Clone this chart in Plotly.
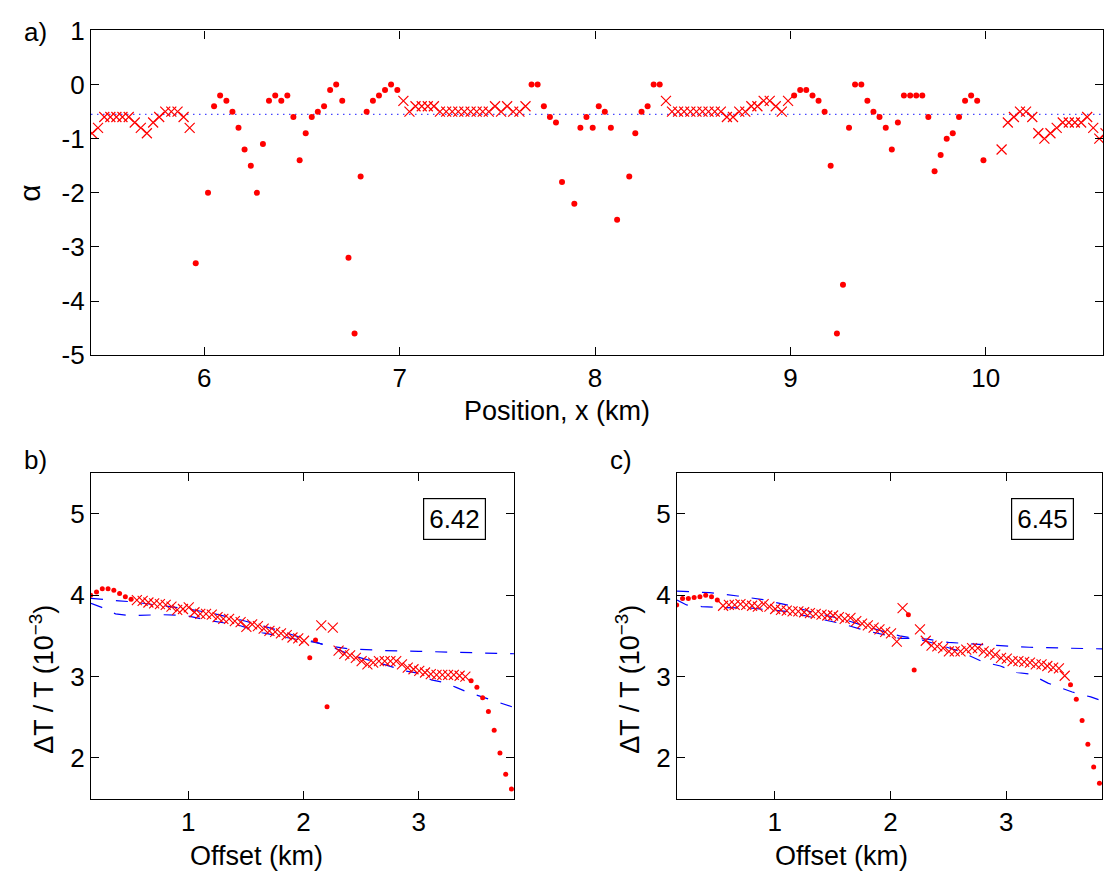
import plotly.graph_objects as go

# ---------------- panel a data ----------------
POSITION = [5.425, 5.456, 5.488, 5.519, 5.550, 5.581, 5.613, 5.644, 5.675, 5.706,
            5.738, 5.769, 5.800, 5.831, 5.863, 5.894, 5.925, 5.956, 5.988, 6.019,
            6.050, 6.081, 6.113, 6.144, 6.175, 6.206, 6.238, 6.269, 6.300, 6.331,
            6.363, 6.394, 6.425, 6.456, 6.488, 6.519, 6.550, 6.581, 6.613, 6.644,
            6.675, 6.706, 6.738, 6.769, 6.800, 6.831, 6.863, 6.894, 6.925, 6.956,
            6.988, 7.019, 7.050, 7.081, 7.113, 7.144, 7.175, 7.206, 7.238, 7.269,
            7.300, 7.331, 7.363, 7.394, 7.425, 7.456, 7.488, 7.519, 7.550, 7.581,
            7.613, 7.644, 7.675, 7.706, 7.738, 7.769, 7.800, 7.831, 7.863, 7.894,
            7.925, 7.956, 7.988, 8.019, 8.050, 8.081, 8.113, 8.144, 8.175, 8.206,
            8.238, 8.269, 8.300, 8.331, 8.363, 8.394, 8.425, 8.456, 8.488, 8.519,
            8.550, 8.581, 8.613, 8.644, 8.675, 8.706, 8.738, 8.769, 8.800, 8.831,
            8.863, 8.894, 8.925, 8.956, 8.988, 9.019, 9.050, 9.081, 9.113, 9.144,
            9.175, 9.206, 9.238, 9.269, 9.300, 9.331, 9.363, 9.394, 9.425, 9.456,
            9.488, 9.519, 9.550, 9.581, 9.613, 9.644, 9.675, 9.706, 9.738, 9.769,
            9.800, 9.831, 9.863, 9.894, 9.925, 9.956, 9.988, 10.019, 10.050, 10.081,
            10.113, 10.144, 10.175, 10.206, 10.238, 10.269, 10.300, 10.331, 10.363, 10.394,
            10.425, 10.456, 10.488, 10.519, 10.550, 10.581, 10.613]
ALPHA = [-0.9, -0.8, -0.6, -0.6, -0.6, -0.6, -0.6, -0.7, -0.8, -0.9,
         -0.7, -0.6, -0.5, -0.5, -0.5, -0.6, -0.8, -3.3, None, -2.0,
         -0.4, -0.2, -0.3, -0.5, -0.8, -1.2, -1.5, -2.0, -1.1, -0.3,
         -0.2, -0.3, -0.2, -0.6, -1.4, -0.9, -0.6, -0.5, -0.4, -0.1,
         0.0, -0.3, -3.2, -4.6, -1.7, -0.5, -0.3, -0.2, -0.1, 0.0,
         -0.1, -0.3, -0.5, -0.4, -0.4, -0.4, -0.4, -0.5, -0.5, -0.5,
         -0.5, -0.5, -0.5, -0.5, -0.5, -0.5, -0.4, -0.5, -0.4, -0.5,
         -0.5, -0.4, 0.0, 0.0, -0.4, -0.6, -0.7, -1.8, None, -2.2,
         -0.8, -0.6, -0.8, -0.4, -0.5, -0.8, -2.5, None, -1.7, -0.9,
         -0.5, -0.4, 0.0, 0.0, -0.3, -0.5, -0.5, -0.5, -0.5, -0.5,
         -0.5, -0.5, -0.5, -0.5, -0.6, -0.6, -0.5, -0.5, -0.4, -0.4,
         -0.3, -0.3, -0.4, -0.5, -0.3, -0.2, -0.1, -0.1, -0.2, -0.3,
         -0.5, -1.5, -4.6, -3.7, -0.8, 0.0, 0.0, -0.3, -0.5, -0.6,
         -0.8, -1.2, -0.7, -0.2, -0.2, -0.2, -0.2, -0.6, -1.6, -1.3,
         -1.0, -0.9, -0.6, -0.3, -0.2, -0.3, -1.4, None, None, -1.2,
         -0.7, -0.6, -0.5, -0.5, -0.6, -0.9, -1.0, -0.9, -0.8, -0.7,
         -0.7, -0.7, -0.7, -0.6, -0.8, -1.0, -0.9]
KIND_A = "x" * 17 + "o" * 34 + "x" * 21 + "o" * 22 + "x" * 21 + "o" * 32 + "-" * 2 + "x" * 18
ALPHA_MEAN = -0.55
A_XRANGE = [5.42, 10.6]
A_YTICKS = [-5, -4, -3, -2, -1, 0, 1]
A_YTICKTEXT = ["-5", "-4", "-3", "-2", "-1", "0", "1"]
A_XTICKS = [6, 7, 8, 9, 10]

# ---------------- panels b, c data ----------------
OFFSET = [0.155, 0.205, 0.255, 0.305, 0.355, 0.405, 0.455, 0.505, 0.555, 0.605,
          0.655, 0.705, 0.755, 0.805, 0.855, 0.905, 0.955, 1.005, 1.055, 1.105,
          1.155, 1.205, 1.255, 1.305, 1.355, 1.405, 1.455, 1.505, 1.555, 1.605,
          1.655, 1.705, 1.755, 1.805, 1.855, 1.905, 1.955, 2.005, 2.055, 2.105,
          2.155, 2.205, 2.255, 2.305, 2.355, 2.405, 2.455, 2.505, 2.555, 2.605,
          2.655, 2.705, 2.755, 2.805, 2.855, 2.905, 2.955, 3.005, 3.055, 3.105,
          3.155, 3.205, 3.255, 3.305, 3.355, 3.405, 3.455, 3.505, 3.555, 3.605,
          3.655, 3.705, 3.755, 3.805, 3.855]
B_VALUE = [4.00, 4.04, 4.08, 4.08, 4.06, 4.02, 3.98, 3.95, 3.94, 3.93,
           3.91, 3.90, 3.89, 3.88, 3.86, 3.82, 3.83, 3.85, 3.79, 3.77,
           3.77, 3.76, 3.73, 3.71, 3.71, 3.68, 3.67, 3.61, 3.64, 3.62,
           3.59, 3.56, 3.55, 3.53, 3.51, 3.48, 3.47, 3.44, 3.23, 3.45,
           3.63, 2.63, 3.60, 3.32, 3.28, 3.26, 3.23, 3.19, 3.15, 3.17,
           3.19, 3.19, 3.19, 3.19, 3.15, 3.11, 3.09, 3.07, 3.05, 3.03,
           3.02, 3.02, 3.02, 3.02, 3.01, 3.00, 2.95, 2.87, 2.74, 2.57,
           2.34, 2.06, 1.80, 1.62, 1.55]
B_KIND = "o" * 8 + "x" * 30 + "oo" + "x" + "o" + "x" * 24 + "o" * 9
C_VALUE = [3.88, 3.96, 3.96, 3.97, 3.98, 4.00, 3.98, 3.94, 3.87, 3.88,
           3.88, 3.89, 3.88, 3.87, 3.86, 3.89, 3.86, 3.83, 3.82, 3.81,
           3.80, 3.80, 3.79, 3.78, 3.77, 3.76, 3.75, 3.75, 3.73, 3.71,
           3.72, 3.68, 3.65, 3.63, 3.60, 3.58, 3.55, 3.53, 3.43, 3.84,
           3.76, 3.08, 3.58, 3.44, 3.38, 3.37, 3.35, 3.31, 3.31, 3.31,
           3.33, 3.35, 3.35, 3.31, 3.29, 3.27, 3.23, 3.22, 3.19, 3.19,
           3.18, 3.17, 3.15, 3.15, 3.13, 3.11, 3.10, 3.01, 2.90, 2.72,
           2.46, 2.17, 1.89, 1.69, 1.59]
C_KIND = "o" * 8 + "x" * 32 + "oo" + "x" * 26 + "o" * 7

B_FIT1_X = [0.157, 0.27, 0.40, 0.50, 0.80, 1.00, 1.20, 1.50, 1.80, 2.10, 2.20, 2.40, 2.70, 3.00, 3.30, 3.60, 3.83]
B_FIT1_Y = [3.96, 3.95, 3.93, 3.92, 3.87, 3.83, 3.78, 3.68, 3.56, 3.43, 3.38, 3.34, 3.32, 3.31, 3.30, 3.29, 3.28]
B_FIT2_X = [0.157, 0.25, 0.37, 0.49, 0.77, 0.98, 1.18, 1.44, 1.64, 1.85, 2.10, 2.22, 2.42, 2.65, 2.88,
            3.00, 3.11, 3.21, 3.32, 3.42, 3.55, 3.64, 3.83]
B_FIT2_Y = [3.90, 3.85, 3.77, 3.75, 3.76, 3.75, 3.69, 3.63, 3.54, 3.48, 3.42, 3.38, 3.26, 3.17, 3.07,
            3.04, 2.96, 2.93, 2.87, 2.81, 2.75, 2.71, 2.62]
C_FIT1_X = [0.157, 0.44, 0.68, 0.90, 1.12, 1.33, 1.60, 1.85, 2.08, 2.21, 2.32, 2.50, 2.95, 3.20, 3.50, 3.83]
C_FIT1_Y = [4.05, 4.03, 3.99, 3.945, 3.875, 3.79, 3.70, 3.59, 3.50, 3.47, 3.46, 3.42, 3.38, 3.36, 3.35, 3.34]
C_FIT2_X = [0.157, 0.24, 0.37, 0.49, 0.80, 1.10, 1.35, 1.58, 1.77, 1.98, 2.08, 2.21, 2.40, 2.60, 2.72,
            2.80, 2.95, 3.09, 3.21, 3.36, 3.57, 3.73, 3.83]
C_FIT2_Y = [3.94, 3.88, 3.86, 3.85, 3.84, 3.80, 3.72, 3.65, 3.57, 3.50, 3.47, 3.47, 3.40, 3.31, 3.23,
            3.18, 3.13, 3.05, 3.03, 2.92, 2.81, 2.75, 2.70]
BC_XRANGE = [0.157, 3.827]
BC_YRANGE = [1.5, 5.5]
BC_XTICKS = [1, 2, 3]
BC_YTICKS = [2, 3, 4, 5]
B_LABEL = "6.42"
C_LABEL = "6.45"

# ---------------- styling ----------------
W, H = 1104, 891
FONT = "Liberation Sans, Arial, Helvetica, sans-serif"
FS = 26
LFS = 27
RED = "rgb(255,0,0)"
BLUE = "rgb(0,0,255)"


def fx(p):
    return p / W


def fy(p):
    return 1 - p / H


def pick(xs, ys, kinds, k):
    px, py = [], []
    for x, y, kk in zip(xs, ys, kinds):
        if kk == k and y is not None:
            px.append(x)
            py.append(y)
    return px, py


fig = go.Figure()

# panel a
fig.add_trace(go.Scatter(x=A_XRANGE, y=[ALPHA_MEAN, ALPHA_MEAN], mode="lines",
                         line=dict(color="rgb(70,70,255)", width=1.2, dash="1.5px,4.5px"),
                         xaxis="x", yaxis="y", hoverinfo="skip"))
xd, yd = pick(POSITION, ALPHA, KIND_A, "o")
fig.add_trace(go.Scatter(x=xd, y=yd, mode="markers",
                         marker=dict(symbol="circle", size=6, color=RED, line=dict(width=0)),
                         xaxis="x", yaxis="y"))
xx, yx = pick(POSITION, ALPHA, KIND_A, "x")
fig.add_trace(go.Scatter(x=xx, y=yx, mode="markers",
                         marker=dict(symbol="x-thin", size=10, color=RED, line=dict(width=1.2, color=RED)),
                         xaxis="x", yaxis="y"))

# panels b, c
for (vals, kinds, f1x, f1y, f2x, f2y, xa, ya) in [
        (B_VALUE, B_KIND, B_FIT1_X, B_FIT1_Y, B_FIT2_X, B_FIT2_Y, "x2", "y2"),
        (C_VALUE, C_KIND, C_FIT1_X, C_FIT1_Y, C_FIT2_X, C_FIT2_Y, "x3", "y3")]:
    for fxs, fys in [(f1x, f1y), (f2x, f2y)]:
        fig.add_trace(go.Scatter(x=fxs, y=fys, mode="lines",
                                 line=dict(color=BLUE, width=1.2, dash="12px,13px"),
                                 xaxis=xa, yaxis=ya, hoverinfo="skip"))
    xd, yd = pick(OFFSET, vals, kinds, "o")
    fig.add_trace(go.Scatter(x=xd, y=yd, mode="markers",
                             marker=dict(symbol="circle", size=5, color=RED, line=dict(width=0)),
                             xaxis=xa, yaxis=ya))
    xx, yx = pick(OFFSET, vals, kinds, "x")
    fig.add_trace(go.Scatter(x=xx, y=yx, mode="markers",
                             marker=dict(symbol="x-thin", size=10, color=RED, line=dict(width=1.1, color=RED)),
                             xaxis=xa, yaxis=ya))

axis_common = dict(showline=True, linecolor="black", linewidth=1.3, mirror="ticks",
                   ticks="inside", ticklen=8, tickcolor="black", tickwidth=1,
                   showgrid=False, zeroline=False,
                   tickfont=dict(family=FONT, size=FS, color="black"))

fig.update_layout(
    width=W, height=H, margin=dict(l=0, r=0, t=0, b=0),
    paper_bgcolor="white", plot_bgcolor="white", showlegend=False,
    xaxis=dict(domain=[fx(91), fx(1103)], range=A_XRANGE, tickvals=A_XTICKS, anchor="y", **axis_common),
    yaxis=dict(domain=[fy(352), fy(16)], range=[-5, 1], tickvals=A_YTICKS, ticktext=A_YTICKTEXT,
               anchor="x", **axis_common),
    xaxis2=dict(domain=[fx(91), fx(514)], range=BC_XRANGE, tickvals=BC_XTICKS, anchor="y2", **axis_common),
    yaxis2=dict(domain=[fy(811), fy(474)], range=BC_YRANGE, tickvals=BC_YTICKS, anchor="x2", **axis_common),
    xaxis3=dict(domain=[fx(677), fx(1102)], range=BC_XRANGE, tickvals=BC_XTICKS, anchor="y3", **axis_common),
    yaxis3=dict(domain=[fy(811), fy(474)], range=BC_YRANGE, tickvals=BC_YTICKS, anchor="x3", **axis_common),
)

# labels (placed as in the reference figure)
labels = [
    dict(text="a)", x=fx(22), y=fy(18), xanchor="left", yanchor="middle", size=FS, angle=0),
    dict(text="b)", x=fx(22), y=fy(460), xanchor="left", yanchor="middle", size=FS, angle=0),
    dict(text="c)", x=fx(608), y=fy(460), xanchor="left", yanchor="middle", size=FS, angle=0),
    dict(text="Position, x (km)", x=fx(557), y=fy(410), xanchor="center", yanchor="middle", size=LFS, angle=0),
    dict(text="Offset (km)", x=fx(256), y=fy(870), xanchor="center", yanchor="middle", size=LFS, angle=0),
    dict(text="Offset (km)", x=fx(841), y=fy(870), xanchor="center", yanchor="middle", size=LFS, angle=0),
    dict(text="α", x=fx(30), y=fy(185), xanchor="center", yanchor="middle", size=30, angle=-90),
    dict(text="ΔT / T (10<sup>−3</sup>)", x=fx(42), y=fy(688), xanchor="center", yanchor="middle", size=LFS, angle=-90),
    dict(text="ΔT / T (10<sup>−3</sup>)", x=fx(628), y=fy(688), xanchor="center", yanchor="middle", size=LFS, angle=-90),
]
for a in labels:
    fig.add_annotation(xref="paper", yref="paper", showarrow=False, text=a["text"],
                       x=a["x"], y=a["y"], xanchor=a["xanchor"], yanchor=a["yanchor"],
                       textangle=a["angle"],
                       font=dict(family=FONT, size=a["size"], color="black"))

for lab, xr, yr in [(B_LABEL, "x2 domain", "y2 domain"), (C_LABEL, "x3 domain", "y3 domain")]:
    fig.add_annotation(text=lab, xref=xr, yref=yr, x=1 - 28 / 423, y=1 - 26 / 337,
                       xanchor="right", yanchor="top", showarrow=False,
                       font=dict(family=FONT, size=FS, color="black"),
                       bordercolor="black", borderwidth=1.2, borderpad=5, bgcolor="white")

fig.write_html("out.html")
